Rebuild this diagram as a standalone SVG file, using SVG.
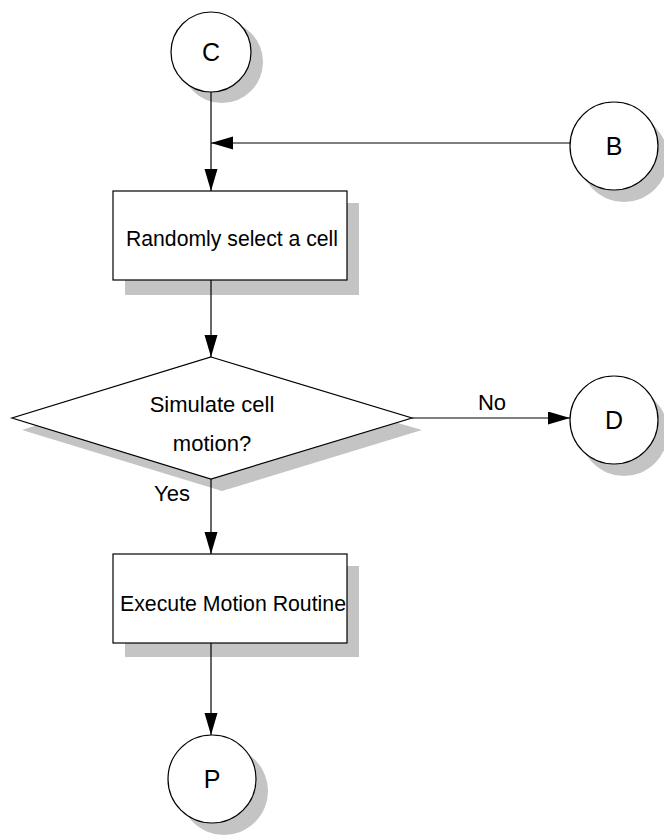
<svg xmlns="http://www.w3.org/2000/svg" width="664" height="839" viewBox="0 0 664 839">
<style>
.node{fill:#fff;stroke:#000;stroke-width:1.2}
.shadow{fill:#c4c4c4;stroke:none}
.lbl{font-family:"Liberation Sans",Arial,sans-serif;font-size:22px;fill:#000}
.big{font-size:25px}
.conn{fill:none;stroke:#000;stroke-width:1.2}
</style>
<defs>
<marker id="arr" markerUnits="userSpaceOnUse" markerWidth="24" markerHeight="14" refX="22" refY="6.5" orient="auto">
<path d="M0,0 L22,6.5 L0,13 Z" fill="#000"/>
</marker>
</defs>
<rect width="664" height="839" fill="#fff"/>
<g id="node-C">
<circle class="shadow" cx="222" cy="62" r="41"/>
<circle class="node" cx="211" cy="52" r="40"/>
<text class="lbl big" x="211" y="61" text-anchor="middle">C</text>
</g>
<g id="node-B">
<circle class="shadow" cx="624" cy="158" r="44"/>
<circle class="node" cx="614" cy="146" r="44"/>
<text class="lbl big" x="614" y="155" text-anchor="middle">B</text>
</g>
<g id="node-select">
<rect class="shadow" x="125" y="203" width="234" height="92"/>
<rect class="node" x="113" y="191" width="234" height="89"/>
<text class="lbl" x="232" y="246" text-anchor="middle" textLength="212" lengthAdjust="spacingAndGlyphs">Randomly select a cell</text>
</g>
<g id="node-decision">
<polygon class="shadow" points="212,369 422,430 222,491 22,430"/>
<polygon class="node" points="211,357 412,418 211,479 12,418"/>
<text class="lbl" x="212" y="412" text-anchor="middle">Simulate cell</text>
<text class="lbl" x="212" y="451" text-anchor="middle">motion?</text>
</g>
<g id="node-D">
<circle class="shadow" cx="624" cy="432" r="44"/>
<circle class="node" cx="614" cy="420" r="44"/>
<text class="lbl big" x="614" y="429" text-anchor="middle">D</text>
</g>
<g id="node-execute">
<rect class="shadow" x="125" y="566" width="234" height="91"/>
<rect class="node" x="113" y="554" width="234" height="89"/>
<text class="lbl" x="233" y="611" text-anchor="middle" textLength="226" lengthAdjust="spacingAndGlyphs">Execute Motion Routine</text>
</g>
<g id="node-P">
<circle class="shadow" cx="224" cy="791" r="44"/>
<circle class="node" cx="212" cy="779" r="44"/>
<text class="lbl big" x="212" y="788" text-anchor="middle">P</text>
</g>
<g id="connectors">
<line class="conn" x1="211" y1="92" x2="211" y2="191" marker-end="url(#arr)"/>
<line class="conn" x1="570" y1="143" x2="211" y2="143" marker-end="url(#arr)"/>
<line class="conn" x1="211" y1="280" x2="211" y2="357" marker-end="url(#arr)"/>
<line class="conn" x1="412" y1="418" x2="570" y2="418" marker-end="url(#arr)"/>
<line class="conn" x1="211" y1="479" x2="211" y2="554" marker-end="url(#arr)"/>
<line class="conn" x1="211" y1="643" x2="211" y2="735" marker-end="url(#arr)"/>
<text class="lbl" x="492" y="410" text-anchor="middle">No</text>
<text class="lbl" x="172" y="501" text-anchor="middle">Yes</text>
</g>
</svg>
